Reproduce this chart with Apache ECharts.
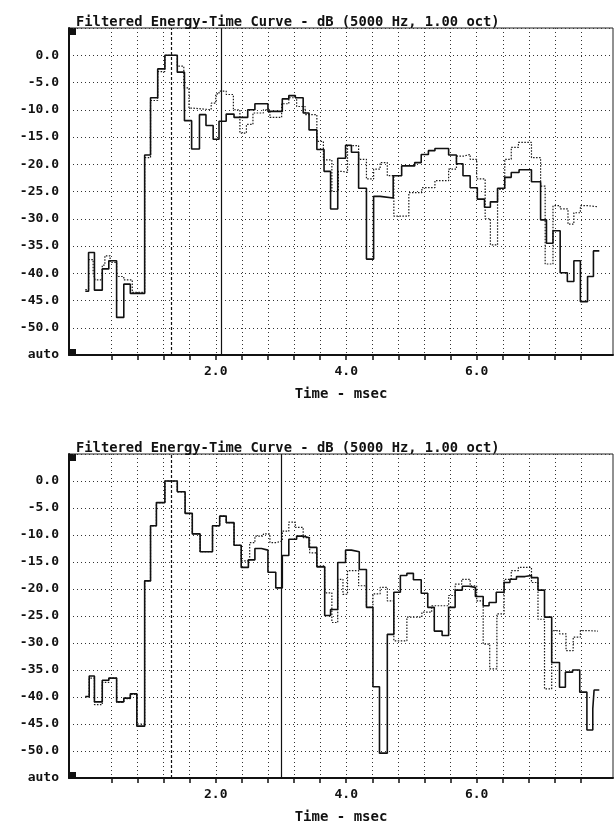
<!DOCTYPE html>
<html>
<head>
<meta charset="utf-8">
<script src="https://cdn.jsdelivr.net/npm/echarts@6/dist/echarts.min.js"></script>
<style>
  html, body { margin: 0; padding: 0; background: #fff; }
  #chart { width: 614px; height: 822px; }
</style>
</head>
<body>
<div id="chart"></div>
<script>
// time in msec, level in dB; each level holds until the next time (step 'end')
const titleText = 'Filtered Energy-Time Curve - dB (5000 Hz, 1.00 oct)'
const xName = 'Time - msec'
const xTicks = [0.4, 0.8, 1.2, 1.6, 2.0, 2.4, 2.8, 3.2, 3.6, 4.0, 4.4, 4.8, 5.2, 5.6, 6.0, 6.4, 6.8, 7.2, 7.6]
const xLabels = [2.0, 4.0, 6.0]
const yAutoValue = -55

// cursor lines
const topCursors = [1.32, 2.09]
const bottomCursors = [1.32, 3.0]

const topSolid = [
  [0.00,-43.3],[0.05,-36.2],[0.14,-43.1],[0.26,-39.2],[0.36,-37.7],[0.48,-48.1],[0.59,-42.0],[0.69,-43.7],
  [0.91,-18.3],[1.00,-7.8],[1.11,-2.5],[1.22,0.0],[1.41,-3.1],[1.52,-12.0],[1.63,-17.2],[1.75,-10.9],
  [1.85,-12.9],[1.96,-15.4],[2.05,-12.1],[2.16,-10.8],[2.28,-11.4],[2.49,-10.0],[2.60,-8.9],[2.80,-10.3],
  [3.02,-8.0],[3.12,-7.4],[3.22,-7.8],[3.34,-10.6],[3.43,-13.7],[3.55,-17.3],[3.66,-21.3],[3.76,-28.2],
  [3.87,-18.9],[3.99,-16.5],[4.08,-17.8],[4.19,-24.4],[4.31,-37.4],[4.42,-25.9],[4.52,-26.2],[4.72,-22.1],
  [4.85,-20.3],[5.05,-19.7],[5.15,-18.2],[5.26,-17.5],[5.36,-17.1],[5.57,-18.3],[5.69,-19.9],[5.79,-22.1],
  [5.90,-24.3],[6.01,-26.4],[6.12,-27.9],[6.21,-26.9],[6.32,-24.4],[6.43,-22.4],[6.53,-21.5],[6.65,-21.0],
  [6.84,-23.2],[6.98,-30.2],[7.07,-34.5],[7.17,-32.2],[7.28,-39.9],[7.39,-41.5],[7.49,-37.7],[7.59,-45.2],
  [7.70,-40.6],[7.79,-35.9],[7.88,-35.9]
]

const topDotted = [
  [0.00,-43.0],[0.05,-37.5],[0.12,-40.0],[0.15,-41.2],[0.26,-38.5],[0.30,-36.8],[0.38,-38.0],[0.48,-40.6],
  [0.59,-41.2],[0.72,-43.5],[0.91,-18.8],[1.00,-8.3],[1.11,-3.0],[1.22,0.0],[1.41,-2.0],[1.51,-6.0],
  [1.59,-9.7],[1.65,-10.0],[1.93,-8.8],[2.00,-7.1],[2.05,-6.6],[2.16,-7.2],[2.27,-10.0],[2.37,-14.3],
  [2.47,-12.7],[2.57,-10.6],[2.73,-10.0],[2.83,-11.4],[3.01,-8.9],[3.12,-7.8],[3.24,-9.4],[3.37,-10.9],
  [3.55,-15.8],[3.65,-19.2],[3.78,-25.0],[3.88,-21.3],[3.94,-21.5],[4.02,-16.6],[4.19,-19.1],[4.31,-22.7],
  [4.42,-20.9],[4.52,-19.7],[4.63,-22.1],[4.73,-29.5],[4.96,-25.2],[5.16,-24.3],[5.36,-23.0],[5.57,-20.9],
  [5.69,-18.5],[5.80,-18.2],[5.90,-19.1],[6.00,-22.7],[6.13,-30.0],[6.21,-34.8],[6.32,-24.6],[6.43,-19.1],
  [6.53,-16.9],[6.64,-16.0],[6.84,-18.8],[6.98,-24.0],[7.05,-38.3],[7.17,-27.6],[7.28,-28.2],[7.40,-31.0],
  [7.49,-28.9],[7.59,-27.6],[7.70,-27.8],[7.86,-27.8]
]

const bottomSolid = [
  [0.00,-39.9],[0.06,-36.1],[0.14,-40.9],[0.26,-36.9],[0.36,-36.5],[0.48,-40.9],[0.59,-40.2],[0.69,-39.4],
  [0.79,-45.4],[0.91,-18.5],[1.00,-8.3],[1.09,-4.0],[1.22,0.0],[1.41,-2.0],[1.53,-6.0],[1.64,-9.8],
  [1.76,-13.1],[1.95,-8.3],[2.06,-6.5],[2.16,-7.7],[2.28,-11.9],[2.39,-16.0],[2.50,-14.6],[2.60,-12.5],
  [2.70,-12.8],[2.80,-16.9],[2.92,-19.8],[3.02,-13.8],[3.12,-10.8],[3.24,-10.2],[3.34,-10.5],[3.43,-12.3],
  [3.55,-15.9],[3.67,-24.9],[3.76,-23.8],[3.87,-15.1],[3.99,-12.8],[4.08,-13.1],[4.20,-16.4],[4.31,-23.4],
  [4.41,-38.1],[4.51,-50.4],[4.63,-28.4],[4.73,-20.6],[4.83,-17.5],[4.93,-17.1],[5.03,-18.3],[5.15,-20.8],
  [5.25,-23.4],[5.35,-27.8],[5.47,-28.6],[5.57,-23.4],[5.67,-20.2],[5.78,-19.5],[5.88,-19.7],[5.98,-21.4],
  [6.10,-23.1],[6.19,-22.5],[6.30,-20.6],[6.42,-18.8],[6.51,-18.2],[6.61,-17.7],[6.74,-17.5],[6.84,-17.9],
  [6.94,-20.2],[7.04,-25.2],[7.15,-33.6],[7.27,-38.2],[7.36,-35.4],[7.47,-35.0],[7.58,-39.1],[7.69,-46.1],
  [7.78,-42.2],[7.80,-38.7],[7.88,-38.7]
]

const bottomDotted = [
  [0.00,-40.0],[0.06,-36.5],[0.14,-41.4],[0.26,-37.3],[0.36,-36.5],[0.48,-41.0],[0.59,-40.3],[0.69,-39.5],
  [0.79,-45.0],[0.91,-18.5],[1.00,-8.3],[1.09,-4.0],[1.22,0.0],[1.41,-2.0],[1.53,-6.0],[1.64,-9.8],
  [1.76,-13.1],[1.95,-8.3],[2.06,-6.5],[2.16,-7.7],[2.28,-11.9],[2.39,-14.8],[2.52,-11.4],[2.60,-10.2],
  [2.73,-9.8],[2.83,-11.4],[2.93,-11.1],[3.02,-9.3],[3.12,-7.6],[3.22,-8.6],[3.34,-10.5],[3.44,-13.3],
  [3.55,-15.7],[3.67,-20.7],[3.78,-26.2],[3.87,-18.2],[3.95,-21.0],[4.02,-16.6],[4.19,-19.4],[4.31,-23.4],
  [4.41,-20.9],[4.52,-19.7],[4.63,-22.2],[4.73,-29.6],[4.93,-25.2],[5.16,-24.3],[5.31,-23.1],[5.57,-21.2],
  [5.67,-19.1],[5.77,-18.2],[5.90,-19.4],[6.00,-22.2],[6.10,-30.2],[6.20,-34.8],[6.31,-24.6],[6.42,-18.2],
  [6.53,-16.6],[6.64,-16.0],[6.84,-18.8],[6.94,-25.6],[7.04,-38.5],[7.15,-27.7],[7.27,-28.3],[7.37,-31.4],
  [7.48,-28.9],[7.59,-27.7],[7.70,-27.8],[7.86,-27.8]
]

const mono = '"DejaVu Sans Mono", "Liberation Mono", monospace'

function xAxisFor(idx) {
  return {
    type: 'value',
    gridIndex: idx,
    min: -0.25,
    max: 8.09,
    name: xName,
    nameLocation: 'middle',
    nameGap: 32,
    nameTextStyle: { fontFamily: mono, fontSize: 14, fontWeight: 'bold', color: '#111' },
    axisLine: { onZero: false, lineStyle: { color: '#111', width: 2 } },
    axisTick: { show: true, length: 5, customValues: xTicks, lineStyle: { color: '#111', width: 1.5 } },
    axisLabel: {
      customValues: xLabels,
      margin: 10,
      fontFamily: mono, fontSize: 13, fontWeight: 'bold', color: '#111',
      formatter: v => v.toFixed(1)
    },
    splitLine: { show: true, lineStyle: { color: '#333', width: 1, type: [1, 3] } }
  }
}

function yAxisFor(idx) {
  return {
    type: 'value',
    gridIndex: idx,
    min: -55,
    max: 5,
    interval: 5,
    axisLine: { show: true, onZero: false, lineStyle: { color: '#111', width: 2 } },
    axisTick: { show: false },
    axisLabel: {
      margin: 10,
      fontFamily: mono, fontSize: 13, fontWeight: 'bold', color: '#111',
      formatter: v => v === yAutoValue ? 'auto' : (v > 0 ? '' : v.toFixed(1))
    },
    splitLine: { show: true, lineStyle: { color: '#333', width: 1, type: [1, 3] } }
  }
}

function solidSeries(idx, data, cursors) {
  return {
    type: 'line',
    xAxisIndex: idx,
    yAxisIndex: idx,
    step: 'end',
    data: data,
    symbol: 'none',
    z: 4,
    lineStyle: { color: '#111', width: 1.6 },
    markLine: {
      silent: true,
      symbol: 'none',
      label: { show: false },
      data: [
        { xAxis: cursors[0], lineStyle: { color: '#111', width: 1.2, type: [3, 2] } },
        { xAxis: cursors[1], lineStyle: { color: '#111', width: 1.2, type: 'solid' } }
      ]
    }
  }
}

function dottedSeries(idx, data) {
  return {
    type: 'line',
    xAxisIndex: idx,
    yAxisIndex: idx,
    step: 'end',
    data: data,
    symbol: 'none',
    z: 3,
    lineStyle: { color: '#1a1a1a', width: 1.2, type: [1.5, 1.5] }
  }
}

const chart = echarts.init(document.getElementById('chart'), null, { renderer: 'canvas' })

const option = {
  backgroundColor: '#fff',
  animation: false,
  title: [
    { text: titleText, left: 71, top: 10, textStyle: { fontFamily: mono, fontSize: 13.8, fontWeight: 'bold', color: '#111' } },
    { text: titleText, left: 71, top: 436, textStyle: { fontFamily: mono, fontSize: 13.8, fontWeight: 'bold', color: '#111' } }
  ],
  grid: [
    { left: 69, top: 28, width: 544, height: 327, show: true, borderColor: '#222', borderWidth: 1, outerBoundsMode: 'none' },
    { left: 69, top: 454, width: 544, height: 324, show: true, borderColor: '#222', borderWidth: 1, outerBoundsMode: 'none' }
  ],
  xAxis: [xAxisFor(0), xAxisFor(1)],
  yAxis: [yAxisFor(0), yAxisFor(1)],
  series: [
    dottedSeries(0, topDotted),
    solidSeries(0, topSolid, topCursors),
    dottedSeries(1, bottomDotted),
    solidSeries(1, bottomSolid, bottomCursors)
  ],
  // small black corner markers of the original display
  graphic: [
    { type: 'rect', shape: { x: 69, y: 28, width: 7, height: 7 }, style: { fill: '#111' } },
    { type: 'rect', shape: { x: 69, y: 349, width: 7, height: 6 }, style: { fill: '#111' } },
    { type: 'rect', shape: { x: 69, y: 454, width: 7, height: 7 }, style: { fill: '#111' } },
    { type: 'rect', shape: { x: 69, y: 772, width: 7, height: 6 }, style: { fill: '#111' } }
  ]
}

chart.setOption(option)
</script>
</body>
</html>
